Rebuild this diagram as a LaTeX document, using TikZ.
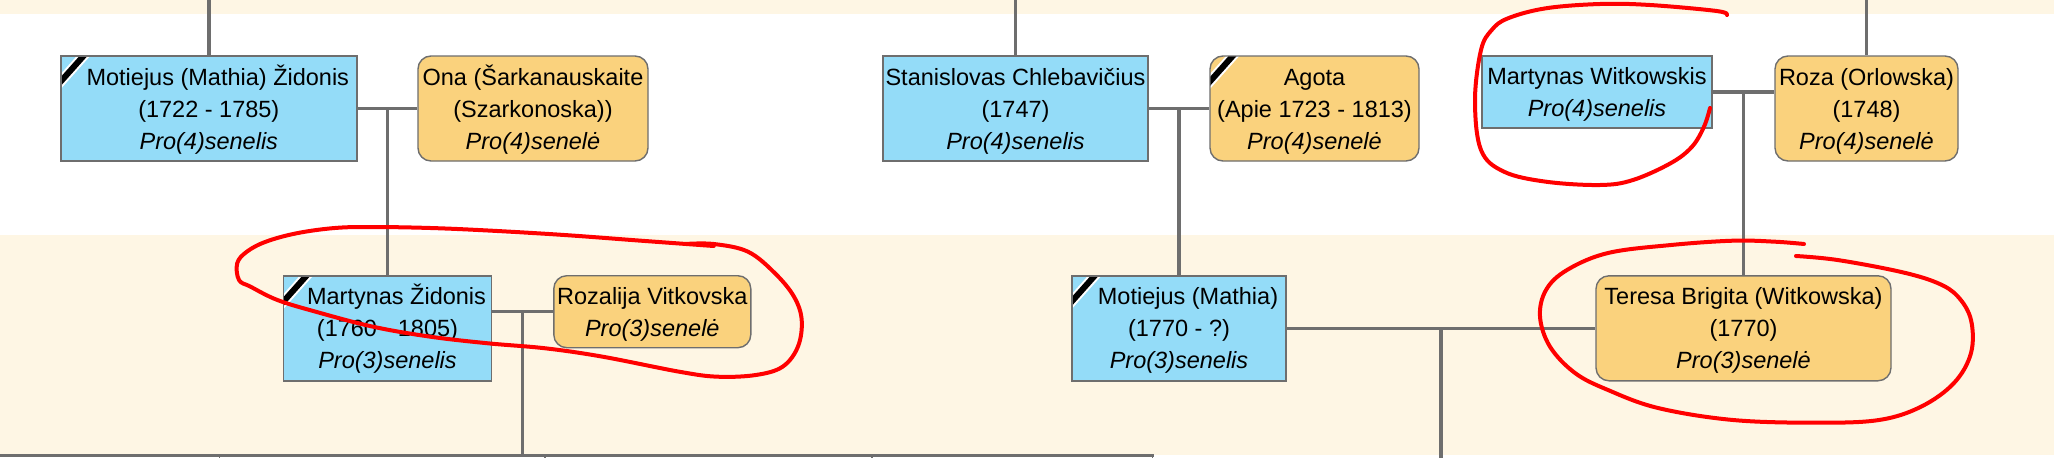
\documentclass[tikz,border=0pt]{standalone}
\usepackage{fontspec}
\setmainfont{Liberation Sans}
\usetikzlibrary{calc}
\definecolor{bgbeige}{HTML}{FEF6E4}
\definecolor{mblue}{HTML}{94DCF8}
\definecolor{forange}{HTML}{FAD27D}
\definecolor{lgray}{HTML}{6E6E6E}
\newcommand\nf{\fontsize{23.5}{32}\selectfont}
\newcommand\ls{\rule[-5pt]{0pt}{27pt}}
\begin{document}
\begin{tikzpicture}[x=1pt,y=-1pt,
 person/.style={draw=lgray,line width=1.4pt,inner sep=0pt,align=center,font=\nf,minimum height=105pt},
 male/.style={person,fill=mblue},
 female/.style={person,fill=forange,rounded corners=13pt},
 twoline/.style={minimum height=72pt},
 conn/.style={draw=lgray,line width=3.5pt},
 tickline/.style={draw=lgray,line width=1.6pt},
 redline/.style={draw=red,line width=4pt,line cap=round,line join=round},
 dead/.style={path picture={
   \draw[white,line width=10pt] ($(path picture bounding box.north west)+(-5,31)$) -- ($(path picture bounding box.north west)+(28,-6)$);
   \draw[black,line width=6pt] ($(path picture bounding box.north west)+(-5,31)$) -- ($(path picture bounding box.north west)+(28,-6)$);}}
]
\useasboundingbox (0,0) rectangle (2054,458);
\fill[white] (0,0) rectangle (2054,458);
\fill[bgbeige] (0,0) rectangle (2054,14);
\fill[bgbeige] (0,235) rectangle (2054,455);

% generation 4
\node[male,dead,minimum width=296pt] (mz) at (208.8,108.5)
  {\ls\hspace*{18pt}Motiejus (Mathia) Židonis\\\ls(1722 - 1785)\\\ls\textit{Pro(4)senelis}};
\node[female,minimum width=230pt] (ona) at (533,108.5)
  {\ls Ona (Šarkanauskaite\\\ls(Szarkonoska))\\\ls\textit{Pro(4)senelė}};
\node[male,minimum width=265pt] (stan) at (1015.5,108.5)
  {\ls Stanislovas Chlebavičius\\\ls(1747)\\\ls\textit{Pro(4)senelis}};
\node[female,dead,minimum width=209pt] (agota) at (1314.5,108.5)
  {\ls Agota\\\ls(Apie 1723 - 1813)\\\ls\textit{Pro(4)senelė}};
\node[male,twoline,minimum width=230pt] (mw) at (1597,92)
  {\ls Martynas Witkowskis\\\ls\textit{Pro(4)senelis}};
\node[female,minimum width=183pt] (roza) at (1866.5,108.5)
  {\ls Roza (Orlowska)\\\ls(1748)\\\ls\textit{Pro(4)senelė}};

% generation 3
\node[male,dead,minimum width=207.5pt] (mzd) at (387.5,328.3)
  {\ls\hspace*{18pt}Martynas Židonis\\\ls(1760 - 1805)\\\ls\textit{Pro(3)senelis}};
\node[female,twoline,minimum width=197pt] (roz) at (652.3,311.7)
  {\ls Rozalija Vitkovska\\\ls\textit{Pro(3)senelė}};
\node[male,dead,minimum width=214pt] (mm) at (1179,328.3)
  {\ls\hspace*{18pt}Motiejus (Mathia)\\\ls(1770 - ?)\\\ls\textit{Pro(3)senelis}};
\node[female,minimum width=295pt] (ter) at (1743.5,328.3)
  {\ls Teresa Brigita (Witkowska)\\\ls(1770)\\\ls\textit{Pro(3)senelė}};

% free ends
\coordinate (t1) at (208.8,0);
\coordinate (t2) at (1015.5,0);
\coordinate (t3) at (1866.5,0);
\coordinate (bl) at (0,455.5);
\coordinate (br) at (1154,455.5);
\coordinate (k1) at (219.6,458);
\coordinate (k2) at (544.8,458);
\coordinate (k3) at (872,458);
\coordinate (k4) at (1152.3,458);
\coordinate (bot) at (0,458);

% connectors
\draw[conn] (t1) -- (mz.north);
\draw[conn] (t2) -- (stan.north);
\draw[conn] (t3) -- (roza.north);

\draw[conn] (mz.east) -- (ona.west);
\coordinate (j1) at ($(mz.east)!0.5!(ona.west)$);
\draw[conn] (j1) -- (j1 |- mzd.north);

\draw[conn] (stan.east) -- (agota.west);
\coordinate (j2) at ($(stan.east)!0.5!(agota.west)$);
\draw[conn] (j2) -- (j2 |- mm.north);

\draw[conn] (mw.east) -- (mw.east -| roza.west);
\coordinate (j3) at ($(mw.east)!0.5!(mw.east -| roza.west)$);
\draw[conn] (j3) -- (j3 |- ter.north);

\draw[conn] (roz.west -| mzd.east) -- (roz.west);
\coordinate (j4) at ($(roz.west -| mzd.east)!0.5!(roz.west)$);
\draw[conn] (j4) -- (j4 |- bl);

\draw[conn] (mm.east) -- (ter.west);
\coordinate (j5) at ($(mm.east)!0.5!(ter.west)$);
\draw[conn] (j5) -- (j5 |- bot);

\draw[conn] (bl) -- (br);
\draw[tickline] (k1 |- bl) -- (k1);
\draw[tickline] (k2 |- bl) -- (k2);
\draw[tickline] (k3 |- bl) -- (k3);
\draw[tickline] (k4 |- bl) -- (k4);

% red annotations
\draw[redline] plot[smooth,tension=0.6] coordinates {(1727,15) (1716.7,11) (1650,5) (1600,4) (1545.8,8.3) (1508,18.3) (1491.7,30) (1481,50) (1475,100) (1481,150) (1504,171.7) (1546,181.7) (1600,185) (1633,180) (1671,163) (1692,146.7) (1704,126.7) (1710,108)};

\draw[redline] plot[smooth,tension=0.6] coordinates {(685,244) (713.7,244) (748,251.7) (775,273.3) (794,296.7) (801.7,320) (797.9,346.7) (782.6,366.7) (755.8,375) (717.5,376.7) (679.2,371.7) (602.7,356.7) (545.3,348.3) (487.9,343.3) (430.5,336.7) (373,326.7) (315.7,311.7) (277.4,300) (250.6,286.7) (239,280) (237.2,263.3) (246.8,251.7) (265.9,241.7) (296.5,233.3) (334.8,228) (373,227) (430.5,228) (487.9,230.5) (564.4,235) (641,240.7) (713.7,246)};

\draw[redline] plot[smooth,tension=0.6] coordinates {(1804,244) (1775,241.7) (1733,240.7) (1671,245) (1608,253) (1567,270) (1546,290) (1540,316.7) (1550,346.7) (1575,373) (1608,390) (1658,408) (1733,420) (1817,422.7) (1879,420) (1921,406.7) (1954,383) (1971,353) (1971,320) (1958,296.7) (1937.5,283) (1900,271.7) (1837.5,260) (1796,256)};
\end{tikzpicture}
\end{document}
